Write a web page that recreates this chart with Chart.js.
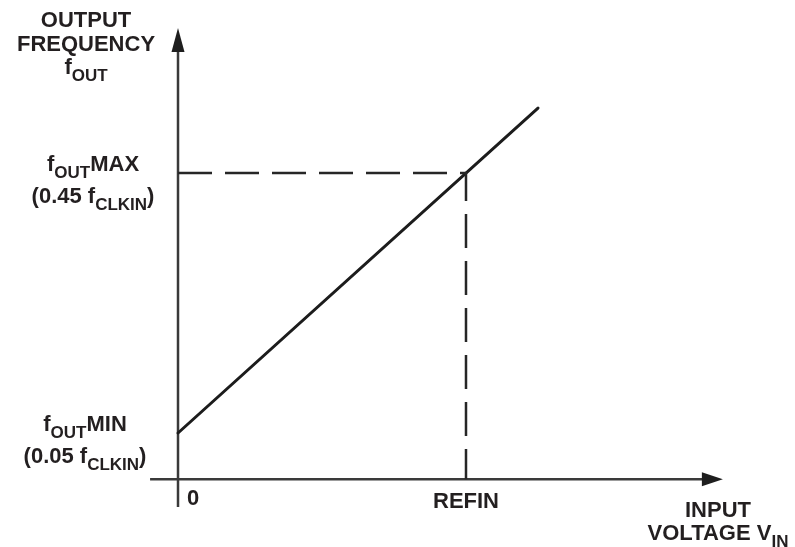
<!DOCTYPE html>
<html>
<head>
<meta charset="utf-8">
<script src="https://cdn.jsdelivr.net/npm/chart.js@4/dist/chart.umd.min.js"></script>
<style>
  html, body { margin: 0; padding: 0; background: #ffffff; }
  #wrap { width: 795px; height: 547px; }
</style>
</head>
<body>
<div id="wrap"><canvas id="chart" width="795" height="547"></canvas></div>
<script>
// Transfer characteristic: input voltage (in units of REFIN) vs output frequency (in units of fCLKIN)
const inputVoltage = [0, 1.25];
const outputFrequency = [0.05, 0.55];

// Reference levels marked on the axes
const refinLevel = 1;
const foutMaxLevel = 0.45;
const foutMinLevel = 0.05;

// Axis tick labels
const xTickValues = [0, refinLevel];
const xTickLabels = ['0', 'REFIN'];
const yTickValues = [foutMaxLevel, foutMinLevel];
// rich labels: [text, isSubscript] pieces, one array per line
const yTickLabels = [
  [[['f', false], ['OUT', true], ['MAX', false]], [['(0.45 f', false], ['CLKIN', true], [')', false]]],
  [[['f', false], ['OUT', true], ['MIN', false]], [['(0.05 f', false], ['CLKIN', true], [')', false]]]
];
const yTitle = [[['OUTPUT', false]], [['FREQUENCY', false]], [['f', false], ['OUT', true]]];
const xTitle = [[['INPUT', false]], [['VOLTAGE V', false], ['IN', true]]];

// Where the drawn axes run, in data units
const axisBaseY = -0.021;     // the x-axis sits slightly below zero frequency
const xAxisFrom = -0.097, xAxisTo = 1.892;
const yAxisFrom = -0.064, yAxisTo = 0.673;

const INK = '#231f20';
const AXIS = '#3a3a3a';
const MAIN_FONT = 'bold 22px "Liberation Sans", Arial, sans-serif';
const SUB_FONT = 'bold 17px "Liberation Sans", Arial, sans-serif';

function richWidth(ctx, parts) {
  let w = 0;
  for (const [t, sub] of parts) { ctx.font = sub ? SUB_FONT : MAIN_FONT; w += ctx.measureText(t).width; }
  return w;
}
function drawRich(ctx, parts, cx, baseline, align) {
  const w = richWidth(ctx, parts);
  let x = align === 'left' ? cx : cx - w / 2;
  ctx.fillStyle = INK;
  ctx.textBaseline = 'alphabetic';
  ctx.textAlign = 'left';
  for (const [t, sub] of parts) {
    ctx.font = sub ? SUB_FONT : MAIN_FONT;
    ctx.fillText(t, x, baseline + (sub ? 7 : 0));
    x += ctx.measureText(t).width;
  }
}
function arrowHead(ctx, tipX, tipY, dir, len, half) {
  ctx.beginPath();
  if (dir === 'up') {
    ctx.moveTo(tipX, tipY); ctx.lineTo(tipX - half, tipY + len); ctx.lineTo(tipX + half, tipY + len);
  } else {
    ctx.moveTo(tipX, tipY); ctx.lineTo(tipX - len, tipY - half); ctx.lineTo(tipX - len, tipY + half);
  }
  ctx.closePath();
  ctx.fillStyle = '#1e1e1e';
  ctx.fill();
}

const diagramPlugin = {
  id: 'diagram',
  beforeDraw(chart) {
    const ctx = chart.ctx;
    ctx.save();
    ctx.fillStyle = '#ffffff';
    ctx.fillRect(0, 0, chart.width, chart.height);
    ctx.restore();
  },
  beforeDatasetsDraw(chart) {
    const ctx = chart.ctx, xs = chart.scales.x, ys = chart.scales.y;
    const x0 = xs.getPixelForValue(0);
    const yBase = ys.getPixelForValue(axisBaseY);
    ctx.save();
    ctx.strokeStyle = AXIS;
    ctx.lineWidth = 2.5;
    ctx.lineCap = 'butt';
    // y axis
    const yTop = ys.getPixelForValue(yAxisTo);
    ctx.beginPath();
    ctx.moveTo(x0, ys.getPixelForValue(yAxisFrom));
    ctx.lineTo(x0, yTop + 20);
    ctx.stroke();
    arrowHead(ctx, x0, yTop, 'up', 24, 6.5);
    // x axis
    const xRight = xs.getPixelForValue(xAxisTo);
    ctx.beginPath();
    ctx.moveTo(xs.getPixelForValue(xAxisFrom), yBase);
    ctx.lineTo(xRight - 18, yBase);
    ctx.stroke();
    arrowHead(ctx, xRight, yBase, 'right', 21, 7);
    ctx.restore();
  },
  afterDraw(chart) {
    const ctx = chart.ctx, xs = chart.scales.x, ys = chart.scales.y;
    const yBase = ys.getPixelForValue(axisBaseY);
    ctx.save();
    // y-axis title
    yTitle.forEach((line, i) => drawRich(ctx, line, 86, 27 + i * 23.5));
    // y tick labels (two lines each)
    const yCenters = [93, 85];
    yTickValues.forEach((v, i) => {
      const py = ys.getPixelForValue(v);
      drawRich(ctx, yTickLabels[i][0], yCenters[i], py - 2);
      drawRich(ctx, yTickLabels[i][1], yCenters[i], py + 30);
    });
    // x tick labels
    xTickValues.forEach((v, i) => {
      const px = xs.getPixelForValue(v);
      if (i === 0) drawRich(ctx, [[xTickLabels[i], false]], px + 9, yBase + 26, 'left');
      else drawRich(ctx, [[xTickLabels[i], false]], px, yBase + 29);
    });
    // x-axis title
    xTitle.forEach((line, i) => drawRich(ctx, line, 718, yBase + 38 + i * 23));
    ctx.restore();
  }
};

new Chart(document.getElementById('chart'), {
  type: 'scatter',
  data: {
    datasets: [
      {
        label: 'guides',
        data: [
          { x: 0, y: foutMaxLevel },
          { x: refinLevel, y: foutMaxLevel },
          { x: refinLevel, y: axisBaseY }
        ],
        showLine: true,
        borderColor: '#262626',
        borderWidth: 2.5,
        borderDash: [34, 13],
        borderCapStyle: 'butt',
        borderJoinStyle: 'miter',
        pointRadius: 0,
        tension: 0
      },
      {
        label: 'fOUT',
        data: inputVoltage.map((v, i) => ({ x: v, y: outputFrequency[i] })),
        showLine: true,
        borderColor: '#1c1c1c',
        borderWidth: 3,
        borderCapStyle: 'round',
        pointRadius: 0,
        tension: 0
      }
    ]
  },
  options: {
    responsive: false,
    devicePixelRatio: 1,
    animation: false,
    layout: { padding: 0 },
    plugins: { legend: { display: false }, tooltip: { enabled: false }, title: { display: false } },
    scales: {
      x: { type: 'linear', display: false, min: -0.6181, max: 2.1424 },
      y: { type: 'linear', display: false, min: -0.1254, max: 0.7162 }
    }
  },
  plugins: [diagramPlugin]
});
</script>
</body>
</html>
